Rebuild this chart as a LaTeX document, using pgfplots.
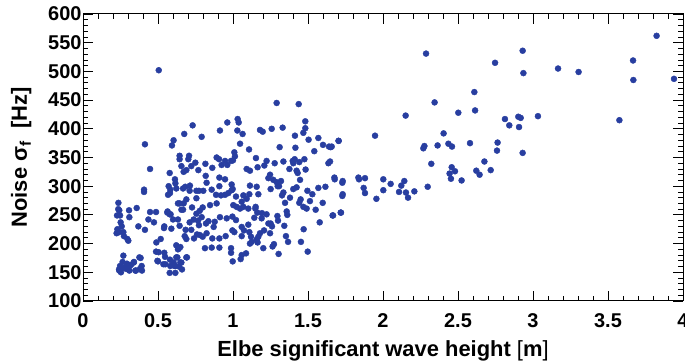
\documentclass[border=0pt]{standalone}
\usepackage{fontspec}
\setmainfont{Liberation Sans}
\usepackage{pgfplots}
\pgfplotsset{compat=1.18}
\definecolor{dotblue}{RGB}{40,62,160}
\pgfplotstableread{
x y
0.236 271
0.242 258
0.247 249
0.307 258
0.309 246
0.358 262
0.413 373
0.447 330
0.407 294
0.407 290
0.447 255
0.487 255
0.369 230
0.413 224
0.251 237
0.258 230
0.242 220
0.269 220
0.273 213
0.296 208
0.302 205
0.224 218
0.487 186
0.496 170
0.269 179
0.264 168
0.247 161
0.242 153
0.253 150
0.287 156
0.309 153
0.320 163
0.338 167
0.349 153
0.376 176
0.380 156
0.393 153
0.353 153
0.293 165
0.505 502
0.436 242
0.473 237
0.229 225
0.235 260
0.391 161
0.340 168
0.313 162
0.280 159
0.384 175
0.227 249
0.240 155
0.258 157
0.302 155
0.489 202
0.518 208
0.542 230
0.542 184
0.549 164
0.582 161
0.604 167
0.622 176
0.638 191
0.649 194
0.615 161
0.649 167
0.693 176
0.604 380
0.593 371
0.578 323
0.571 300
0.567 285
0.582 294
0.675 391
0.731 406
0.580 288
0.564 256
0.584 251
0.540 227
0.504 185
0.500 169
0.547 177
0.536 164
0.580 172
0.600 164
0.613 312
0.616 305
0.689 328
0.722 335
0.707 353
0.702 347
0.644 353
0.644 347
0.656 335
0.671 325
0.749 341
0.769 328
0.622 296
0.667 296
0.682 299
0.713 301
0.711 292
0.756 292
0.773 292
0.756 279
0.644 270
0.671 270
0.689 277
0.727 263
0.738 242
0.756 252
0.778 257
0.656 259
0.633 270
0.667 259
0.562 254
0.578 251
0.600 242
0.633 242
0.644 231
0.678 213
0.684 224
0.722 224
0.711 237
0.740 209
0.760 216
0.778 215
0.767 240
0.773 232
0.622 197
0.633 190
0.689 208
0.629 176
0.689 176
0.656 167
0.611 161
0.616 149
0.578 149
0.589 226
0.660 155
0.640 160
1.291 445
1.438 443
0.962 411
1.031 417
1.038 411
1.029 397
1.064 391
0.913 397
0.791 386
1.180 398
1.198 395
1.258 400
1.331 402
1.482 413
1.482 401
1.469 393
1.413 388
1.504 381
1.569 384
1.600 372
1.640 369
1.651 368
1.704 379
1.047 374
1.107 364
1.311 368
1.416 367
1.542 361
1.009 359
1.013 352
1.000 345
0.987 344
0.891 350
0.907 347
0.947 344
0.924 337
0.962 337
0.816 339
0.862 332
1.153 349
1.224 344
1.278 340
1.336 343
1.398 344
1.411 347
1.442 342
1.476 347
1.402 340
1.636 340
1.091 330
1.113 327
1.164 333
1.209 336
1.247 320
1.236 314
1.269 311
1.291 307
1.307 300
1.320 309
1.376 330
1.424 327
1.431 323
1.447 311
1.484 329
0.818 318
0.909 315
0.947 312
0.824 306
0.802 292
0.858 294
0.909 300
0.991 303
0.998 295
1.113 301
1.158 299
1.169 286
1.251 295
1.298 300
1.327 284
1.336 289
1.347 271
1.380 280
1.402 295
1.424 298
1.451 277
1.442 271
1.469 264
1.491 261
1.496 292
1.529 286
1.513 274
1.551 259
1.569 297
1.616 299
1.598 271
1.676 315
1.731 309
1.731 286
1.836 315
1.664 249
1.720 254
1.578 237
1.471 225
1.453 203
1.498 186
1.367 203
1.353 213
1.362 250
1.358 256
1.342 231
1.300 240
1.260 230
1.251 235
1.273 199
1.264 195
1.304 182
1.202 192
1.164 202
1.158 207
1.169 212
1.207 223
1.180 218
1.247 218
1.191 244
1.193 253
1.149 261
1.142 245
1.102 233
1.109 220
1.120 212
1.124 203
1.113 200
1.087 183
1.058 180
1.051 173
0.998 169
0.987 192
0.987 184
0.951 213
0.909 209
0.862 209
0.824 218
0.798 212
0.813 192
0.858 193
0.909 193
1.058 213
1.073 223
1.058 229
1.009 220
0.996 223
1.020 241
0.996 247
0.958 244
0.878 238
0.871 229
0.836 239
0.820 235
0.791 246
0.913 246
1.002 267
1.024 264
1.047 261
1.069 264
1.058 273
1.069 284
1.020 282
0.991 293
0.969 288
0.947 285
0.891 270
0.847 267
0.798 263
0.887 285
0.920 284
1.102 261
1.091 278
1.109 286
1.151 264
1.162 254
1.224 251
1.236 235
1.296 248
2.287 531
2.747 515
2.609 464
2.614 432
2.344 446
2.502 428
2.151 423
2.813 417
2.842 406
1.947 388
1.704 379
1.658 369
1.647 343
2.404 392
2.269 366
2.276 370
2.364 371
2.436 374
2.460 369
2.580 375
2.764 376
2.760 362
2.322 339
1.678 312
1.729 306
1.729 283
1.840 312
1.880 314
1.871 297
1.880 288
1.956 278
2.002 312
2.002 293
2.051 304
2.107 290
2.122 301
2.142 309
2.153 289
2.167 280
2.209 291
2.298 299
2.458 333
2.444 322
2.453 313
2.480 326
2.524 310
2.622 327
2.644 320
2.676 343
2.718 328
1.667 249
1.718 254
2.931 536
2.936 497
3.167 505
3.304 499
3.667 519
3.669 485
3.824 562
3.940 487
2.902 421
2.918 419
2.907 403
3.033 422
2.931 358
3.576 415
}\datatable
\begin{document}
\begin{tikzpicture}
\begin{axis}[
  scale only axis,
  width=600bp, height=287bp,
  xmin=0, xmax=4, ymin=100, ymax=600,
  xtick={0,0.5,1,1.5,2,2.5,3,3.5,4},
  ytick={100,150,200,250,300,350,400,450,500,550,600},
  minor x tick num=4, minor y tick num=4,
  tick align=inside,
  xtick pos=both, ytick pos=both,
  major tick length=10bp, minor tick length=5bp,
  every tick/.style={black, line width=0.8pt},
  axis line style={line width=1pt},
  /pgf/number format/assume math mode=true,
  ticklabel style={font=\fontsize{20}{20}\selectfont\bfseries},
  xticklabel style={yshift=-9bp},
  yticklabel style={xshift=2bp},
  xlabel={Elbe significant wave height {\mdseries[}m{\mdseries]}},
  ylabel={Noise σ\textsubscript{f}\ \ [Hz]},
  label style={font=\fontsize{22}{22}\selectfont\bfseries},
  xlabel style={yshift=-6bp},
  ylabel style={yshift=10bp},
]
\addplot[only marks, mark=*, mark size=3bp, mark options={draw=dotblue, fill=dotblue}] table[x=x, y=y] {\datatable};
\end{axis}
\pgfresetboundingbox
\path[use as bounding box] ([xshift=-83bp,yshift=-63bp]current axis.south west) rectangle ([xshift=2bp,yshift=14bp]current axis.north east);
\end{tikzpicture}
\end{document}
